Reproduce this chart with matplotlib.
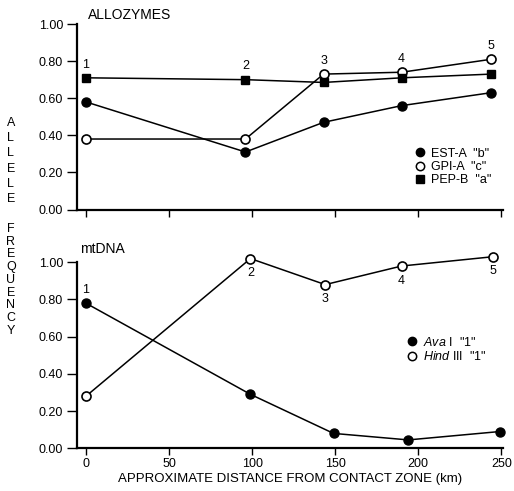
import matplotlib
matplotlib.use("Agg")
import matplotlib.pyplot as plt
from matplotlib.lines import Line2D

plt.rcParams["font.family"] = ["Liberation Sans", "DejaVu Sans"]
plt.rcParams["mathtext.fontset"] = "custom"
plt.rcParams["mathtext.rm"] = "Liberation Sans"
plt.rcParams["mathtext.it"] = "Liberation Sans:italic"

# Allozyme data (distance in km, allele frequency)
allo_km = [0, 96, 143, 190, 244]
est_a = [0.58, 0.31, 0.47, 0.56, 0.63]
gpi_a = [0.38, 0.38, 0.73, 0.74, 0.81]
pep_b = [0.71, 0.70, 0.685, 0.71, 0.73]

# mtDNA data
ava_km = [0, 99, 149, 194, 249]
ava_1 = [0.78, 0.29, 0.08, 0.045, 0.09]
hind_km = [0, 99, 144, 190, 245]
hind_1 = [0.28, 1.02, 0.88, 0.98, 1.03]

site_labels = ["1", "2", "3", "4", "5"]
yticks = [0.0, 0.2, 0.4, 0.6, 0.8, 1.0]
xticks = [0, 50, 100, 150, 200, 250]

fig = plt.figure(figsize=(5.14, 4.91), dpi=100)
ax1 = fig.add_axes([0.1498, 0.5733, 0.8288, 0.3778])
ax2 = fig.add_axes([0.1498, 0.0870, 0.8288, 0.3788])


def style_axes(ax, show_xlabels):
    ax.set_xlim(-5.4, 251)
    ax.set_ylim(0, 1.0)
    ax.spines["top"].set_visible(False)
    ax.spines["right"].set_visible(False)
    ax.spines["left"].set_linewidth(1.6)
    ax.spines["bottom"].set_linewidth(1.6)
    ax.set_yticks(yticks)
    ax.set_yticklabels(["%.2f" % v for v in yticks])
    ax.set_xticks(xticks)
    if not show_xlabels:
        ax.set_xticklabels([])
    ax.tick_params(axis="y", direction="out", length=7, width=1.0, labelsize=9, pad=3)
    ax.tick_params(axis="x", direction="out", length=5, width=1.0, labelsize=9, pad=2)


style_axes(ax1, False)
style_axes(ax2, True)

line_kw = dict(color="black", lw=1.1, clip_on=False)
ax1.plot(allo_km, est_a, marker="o", ms=6.5, mfc="black", mec="black", **line_kw)
ax1.plot(allo_km, gpi_a, marker="o", ms=6.5, mfc="white", mec="black", mew=1.2, **line_kw)
ax1.plot(allo_km, pep_b, marker="s", ms=6, mfc="black", mec="black", **line_kw)

ax2.plot(ava_km, ava_1, marker="o", ms=6.5, mfc="black", mec="black", **line_kw)
ax2.plot(hind_km, hind_1, marker="o", ms=6.5, mfc="white", mec="black", mew=1.2, **line_kw)

# site numbers
for i, lab in enumerate(site_labels):
    top = max(est_a[i], gpi_a[i], pep_b[i])
    ax1.annotate(lab, (allo_km[i], top), xytext=(0, 9.5), textcoords="offset points",
                 ha="center", va="center", fontsize=9, annotation_clip=False)
for i, lab in enumerate(site_labels):
    if i == 0:
        ax2.annotate(lab, (ava_km[i], ava_1[i]), xytext=(0, 9.5), textcoords="offset points",
                     ha="center", va="center", fontsize=9, annotation_clip=False)
    else:
        ax2.annotate(lab, (hind_km[i], hind_1[i]), xytext=(0, -10.5), textcoords="offset points",
                     ha="center", va="center", fontsize=9, annotation_clip=False)

ax1.text(0.026, 1.048, "ALLOZYMES", transform=ax1.transAxes, fontsize=10, va="center", ha="left")
ax2.text(0.007, 1.07, "mtDNA", transform=ax2.transAxes, fontsize=10, va="center", ha="left")

h1 = [Line2D([], [], ls="none", marker="o", ms=6, mfc="black", mec="black"),
      Line2D([], [], ls="none", marker="o", ms=6, mfc="white", mec="black", mew=1.1),
      Line2D([], [], ls="none", marker="s", ms=5.5, mfc="black", mec="black")]
ax1.legend(h1, ['EST-A  "b"', 'GPI-A  "c"', 'PEP-B  "a"'], loc="center left",
           bbox_to_anchor=(0.793, 0.229), frameon=False, fontsize=9, handlelength=0.8,
           handletextpad=0.5, labelspacing=0.1, borderpad=0, borderaxespad=0)

h2 = [Line2D([], [], ls="none", marker="o", ms=6, mfc="black", mec="black"),
      Line2D([], [], ls="none", marker="o", ms=6, mfc="white", mec="black", mew=1.1)]
ax2.legend(h2, [r'$\it{Ava}$ I  "1"', r'$\it{Hind}$ III  "1"'], loc="center left",
           bbox_to_anchor=(0.775, 0.531), frameon=False, fontsize=9, handlelength=0.8,
           handletextpad=0.5, labelspacing=0.15, borderpad=0, borderaxespad=0)

ax2.set_xlabel("APPROXIMATE DISTANCE FROM CONTACT ZONE (km)", fontsize=9.5, labelpad=2)

# stacked y label
for i, ch in enumerate("ALLELE"):
    fig.text(0.021, 1 - (123 + i * 15.2) / 491, ch, fontsize=9, ha="center", va="center")
for i, ch in enumerate("FREQUENCY"):
    fig.text(0.021, 1 - (229 + i * 12.7) / 491, ch, fontsize=9, ha="center", va="center")

fig.savefig("out.png", dpi=100)
